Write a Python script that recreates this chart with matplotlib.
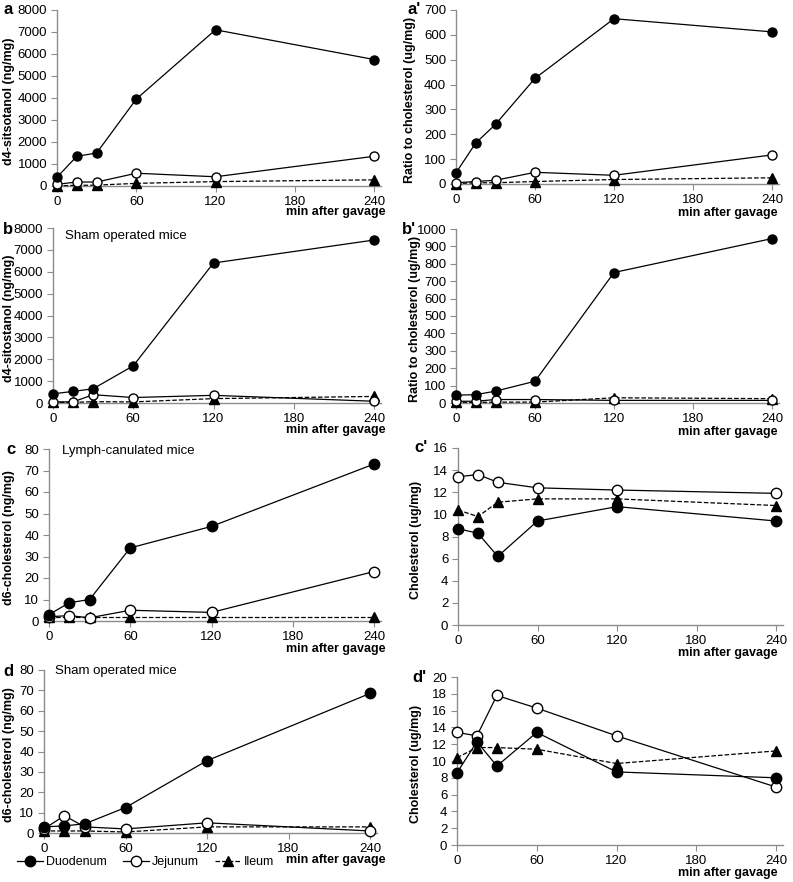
import matplotlib
matplotlib.use("Agg")
import matplotlib.pyplot as plt
from matplotlib.lines import Line2D

plt.rcParams["font.family"] = ["Liberation Sans", "DejaVu Sans"]

# ----------------------------------------------------------------------
# DATA
# ----------------------------------------------------------------------
minutes = [0, 15, 30, 60, 120, 240]
x_ticks = [0, 60, 120, 180, 240]

# a: d4-sitostanol, lymph-canulated
a_duo = [400, 1350, 1500, 3950, 7100, 5750]
a_jej = [80, 180, 180, 580, 420, 1350]
a_ile = [10, 30, 40, 120, 200, 280]
# a': ratio to cholesterol
ap_duo = [45, 165, 240, 425, 665, 612]
ap_jej = [5, 10, 15, 47, 35, 117]
ap_ile = [2, 5, 5, 10, 18, 25]
# b: d4-sitostanol, sham
b_duo = [420, 530, 650, 1700, 6400, 7450]
b_jej = [50, 50, 380, 250, 350, 80]
b_ile = [30, 30, 60, 50, 200, 300]
# b': ratio to cholesterol, sham
bp_duo = [45, 48, 68, 125, 750, 945]
bp_jej = [10, 10, 20, 20, 15, 15]
bp_ile = [5, 3, 5, 5, 30, 25]
# c: d6-cholesterol, lymph-canulated
c_duo = [3, 8.5, 10, 34, 44, 73]
c_jej = [2, 2.5, 1.5, 5, 4, 23]
c_ile = [2, 2, 2, 2, 2, 2]
# c': cholesterol
cp_duo = [8.7, 8.3, 6.2, 9.4, 10.7, 9.4]
cp_jej = [13.4, 13.6, 12.9, 12.4, 12.2, 11.9]
cp_ile = [10.4, 9.8, 11.1, 11.4, 11.4, 10.8]
# d: d6-cholesterol, sham
d_duo = [3, 3.5, 4.5, 12.5, 35.5, 68.5]
d_jej = [2, 8.5, 3, 2, 5, 1]
d_ile = [1, 1, 1, 0.5, 3, 3]
# d': cholesterol, sham
dp_duo = [8.6, 12.3, 9.4, 13.4, 8.7, 8.0]
dp_jej = [13.4, 13.0, 17.8, 16.3, 13.0, 6.9]
dp_ile = [10.4, 11.6, 11.6, 11.4, 9.7, 11.2]

W, H = 793, 882
AXIS_GRAY = "#8c8c8c"


def px_axes(fig, x0, x240, ytop, ybot):
    """Place an axes from pixel coordinates (x0 = data 0, x240 = data 240)."""
    width = (x240 - x0) * 245 / 240
    return fig.add_axes([x0 / W, 1 - ybot / H, width / W, (ybot - ytop) / H])


def draw_panel(ax, duo, jej, ile, ymax, ystep, ms):
    ax.plot(minutes, ile, "k--", lw=0.9, marker="^", ms=ms, mfc="black",
            mec="black", clip_on=False, zorder=3)
    ax.plot(minutes, jej, "k-", lw=0.9, marker="o", ms=ms, mfc="white",
            mec="black", mew=1.0, clip_on=False, zorder=4)
    ax.plot(minutes, duo, "k-", lw=0.9, marker="o", ms=ms, mfc="black",
            mec="black", clip_on=False, zorder=5)
    ax.set_xlim(0, 245)
    ax.set_ylim(0, ymax)
    ax.set_xticks(x_ticks)
    ax.set_yticks(range(0, ymax + 1, ystep))
    for side in ("top", "right"):
        ax.spines[side].set_visible(False)
    for side in ("left", "bottom"):
        ax.spines[side].set_color(AXIS_GRAY)
        ax.spines[side].set_linewidth(1.0)
    ax.tick_params(direction="out", length=4, width=0.8, color=AXIS_GRAY,
                   labelsize=9.5, pad=3)


fig = plt.figure(figsize=(W / 100, H / 100), dpi=100)

# (data, ymax, step, box, ylabel, label_x, letter, letter_xy, xlabel_y, ms)
panels = [
    (a_duo, a_jej, a_ile, 8000, 1000, (57, 374, 10, 186),
     "d4-sitsotanol (ng/mg)", 9, "a", (3, 10), 212, 6.5),
    (ap_duo, ap_jej, ap_ile, 700, 100, (456, 772, 10, 184),
     "Ratio to cholesterol (ug/mg)", 410, "a'", (407, 10), 213, 6.5),
    (b_duo, b_jej, b_ile, 8000, 1000, (53, 374, 228, 403),
     "d4-sitostanol (ng/mg)", 9, "b", (3, 229), 430, 6.5),
    (bp_duo, bp_jej, bp_ile, 1000, 100, (456, 772, 229, 403),
     "Ratio to cholesterol (ug/mg)", 415, "b'", (402, 229), 432, 6.5),
    (c_duo, c_jej, c_ile, 80, 10, (49, 374, 449, 621),
     "d6-cholesterol (ng/mg)", 9, "c", (6, 450), 649, 7.5),
    (cp_duo, cp_jej, cp_ile, 16, 2, (458, 776, 448, 625),
     "Cholesterol (ug/mg)", 416, "c'", (414, 448), 653, 7.5),
    (d_duo, d_jej, d_ile, 80, 10, (44, 370, 670, 833),
     "d6-cholesterol (ng/mg)", 9, "d", (3, 672), 860, 7.5),
    (dp_duo, dp_jej, dp_ile, 20, 2, (457, 776, 677, 845),
     "Cholesterol (ug/mg)", 416, "d'", (412, 677), 873, 7.5),
]

for (duo, jej, ile, ymax, step, box, ylabel, lab_x, letter,
     letter_xy, xlab_y, ms) in panels:
    x0, x240, ytop, ybot = box
    ax = px_axes(fig, x0, x240, ytop, ybot)
    draw_panel(ax, duo, jej, ile, ymax, step, ms)
    fig.text(lab_x / W, 1 - (ytop + ybot + 6) / 2 / H, ylabel, rotation=90,
             ha="center", va="center", fontsize=9, fontweight="bold")
    fig.text(letter_xy[0] / W, 1 - letter_xy[1] / H, letter, ha="left",
             va="center", fontsize=12, fontweight="bold")
    right = 385 if x0 < 300 else 777
    fig.text(right / W, 1 - xlab_y / H, "min after gavage", ha="right",
             va="center", fontsize=9, fontweight="bold")

# inner titles
fig.text(65 / W, 1 - 236 / H, "Sham operated mice", fontsize=9.5, va="center")
fig.text(62 / W, 1 - 451 / H, "Lymph-canulated mice", fontsize=9.5, va="center")
fig.text(55 / W, 1 - 671 / H, "Sham operated mice", fontsize=9.5, va="center")

# legend at the bottom-left
handles = [
    Line2D([], [], color="k", lw=0.9, marker="o", ms=7.5, mfc="black"),
    Line2D([], [], color="k", lw=0.9, marker="o", ms=7.5, mfc="white"),
    Line2D([], [], color="k", lw=0.9, ls="--", marker="^", ms=7.5, mfc="black"),
]
fig.legend(handles, ["Duodenum", "Jejunum", "Ileum"], loc="center left",
           bbox_to_anchor=(17 / W, 1 - 862 / H), ncol=3, frameon=False,
           fontsize=9, handlelength=2.1, handletextpad=0.2,
           columnspacing=1.3, borderpad=0, borderaxespad=0)

fig.savefig("out.png", dpi=100)
